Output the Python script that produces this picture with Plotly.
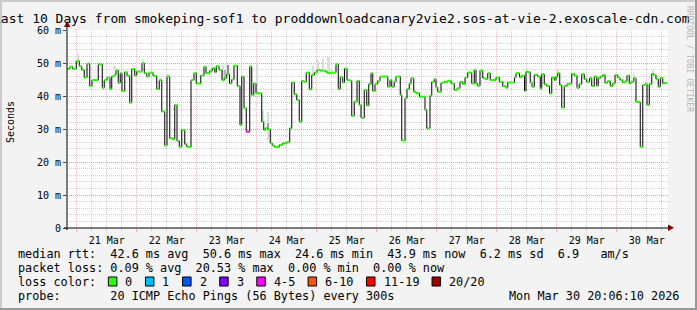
import pandas as pd
import plotly.graph_objects as go

# ---------------- data ----------------
START = pd.Timestamp("2026-03-20 20:06:10")
END_HOURS = 240.0

# median RTT steps: start (hours after START) and value (ms)
seg_hours = [
    0.0, 1.2, 2.3, 3.7, 4.9, 5.9, 6.9, 8.0, 9.1, 10.0, 12.5, 14.1, 14.9, 16.0, 17.2, 17.9,
    18.8, 19.6, 20.5, 21.3, 22.0, 23.1, 24.0, 25.1, 25.9, 27.1, 27.9, 30.0, 30.9, 31.9, 32.8,
    34.4, 35.9, 36.9, 37.9, 39.1, 40.0, 41.1, 42.3, 43.1, 44.0, 44.9, 45.9, 47.1, 47.9, 49.6,
    50.8, 51.7, 53.5, 54.8, 55.6, 57.1, 58.1, 59.1, 59.7, 60.8, 62.0, 62.9, 63.9, 65.0, 65.9,
    66.8, 68.1, 69.2, 69.9, 70.8, 71.7, 73.1, 73.9, 74.7, 75.6, 77.9, 78.7, 79.3, 80.3, 81.3,
    82.1, 82.9, 84.9, 86.3, 87.9, 89.1, 89.9, 90.9, 91.9, 92.9, 93.9, 94.8, 95.7, 96.9,
    97.9, 99.0, 100.0, 101.3, 103.6, 104.3, 105.6, 107.6, 108.5, 109.3, 110.3, 111.0, 112.0,
    113.2, 113.9, 114.9, 116.0, 116.9, 117.6, 118.9, 119.9, 120.7, 121.6, 122.3, 123.2, 124.3,
    125.2, 128.3, 129.2, 129.9, 130.9, 131.6, 133.3, 133.9, 135.2, 136.0, 136.9, 137.6, 138.7,
    139.6, 141.0, 143.2, 143.9, 145.2, 145.9, 146.9, 147.6, 148.3, 149.6, 150.9, 152.3, 153.6,
    154.9, 156.0, 157.2, 158.3, 159.2, 160.3, 161.9, 162.9, 163.6, 164.3, 165.2, 166.3, 167.2,
    168.3, 169.3, 171.6, 172.9, 174.3, 175.6, 176.3, 179.0, 179.6, 181.0, 181.9, 183.0, 183.6,
    184.3, 185.3, 186.0, 186.9, 188.3, 189.3, 189.9, 190.9, 191.9, 193.0, 193.9, 194.9, 195.6,
    196.3, 197.1, 197.9, 198.9, 200.0, 200.9, 201.9, 202.9, 204.0, 204.9, 205.9, 206.9, 207.9,
    209.0, 209.9, 210.9, 211.9, 212.5, 213.3, 214.3, 215.2, 216.3, 217.3, 218.3, 219.2, 220.3,
    221.2, 222.3, 223.2, 224.0, 224.9, 225.6, 226.7, 227.6, 228.5, 229.3, 230.3, 231.2, 232.0,
    232.9, 233.9, 234.7, 235.6, 236.5, 237.3, 238.3, 238.9,
]
seg_ms = [
    48.2, 48.9, 48.2, 50.6, 49.0, 47.9, 45.6, 49.8, 43.0, 44.8, 49.6, 42.5, 44.8, 45.6, 42.1, 45.9,
    46.4, 47.8, 44.0, 46.9, 41.5, 47.2, 46.1, 38.0, 48.2, 46.2, 47.4, 49.9, 46.9, 45.9, 47.1,
    46.1, 42.1, 44.8, 35.3, 25.0, 45.9, 27.2, 26.9, 37.3, 26.4, 24.6, 29.7, 25.4, 24.6, 44.8,
    46.9, 43.8, 46.2, 48.9, 46.9, 47.6, 48.4, 47.2, 49.0, 47.9, 44.8, 45.4, 46.6, 43.8, 45.0,
    49.2, 43.0, 31.2, 45.9, 36.3, 29.2, 48.9, 40.3, 43.8, 40.8, 32.2, 29.7, 30.2, 29.9, 25.7,
    25.0, 24.6, 25.2, 25.7, 26.0, 30.2, 44.1, 40.5, 38.8, 32.2, 44.5, 44.3, 47.1, 42.0,
    46.4, 47.1, 47.9, 47.7, 47.2, 46.9, 47.1, 49.6, 42.1, 45.7, 44.1, 48.3, 44.8,
    44.6, 34.0, 38.3, 44.6, 37.3, 33.4, 41.8, 37.1, 43.6, 46.9, 41.5, 43.6, 44.6,
    45.9, 42.8, 44.8, 42.8, 44.3, 45.9, 40.3, 26.5, 39.3, 42.1, 43.8, 45.4, 41.3,
    40.8, 39.8, 35.8, 30.2, 40.1, 44.3, 45.1, 42.6, 41.3, 44.0, 44.3, 44.6, 43.8,
    41.8, 42.3, 44.3, 43.6, 45.6, 47.1, 43.8, 47.9, 43.8, 43.1, 47.7, 45.4, 45.1,
    46.9, 44.8, 45.6, 44.3, 43.0, 42.5, 44.1, 45.6, 46.9, 45.7, 46.2, 41.5, 47.4,
    47.2, 44.1, 42.8, 46.4, 45.9, 42.3, 46.6, 43.5, 43.0, 40.8, 45.6, 44.8, 45.9,
    46.9, 43.3, 36.5, 43.0, 43.6, 43.8, 46.7, 46.2, 42.5, 43.6, 46.6, 45.1, 44.3,
    45.4, 43.0, 45.9, 43.1, 45.4, 45.9, 46.4, 44.0, 44.5, 43.0, 43.8, 46.4, 45.6,
    44.8, 44.1, 44.5, 46.2, 43.8, 44.3, 45.4, 38.3, 38.1, 24.6, 43.3, 43.6, 37.3,
    43.6, 46.7, 46.4, 45.1, 42.8, 45.4, 43.8, 43.9,
]
# lost pings (of 20) per step; steps not listed lost none
loss_pings = {71.7: 5}

# smoke (ping spread) bars: centre hour, low ms, high ms, shade
smoke_hours = [4.3, 19.0, 30.4, 40.5, 62.3, 63.3, 64.4, 73.5, 75.9, 78.2, 80.3, 80.3,
               98.3, 100.5, 102.5, 104.6, 133.5, 196.5, 226.9, 234.3]
smoke_low = [50.6, 47.8, 49.9, 45.9, 44.8, 45.4, 46.4, 41.0, 40.8, 32.2, 26.7, 29.7,
             46.4, 47.9, 47.7, 46.9, 40.3, 46.9, 45.4, 46.4]
smoke_high = [52.7, 49.2, 50.9, 46.7, 49.4, 48.0, 49.4, 49.4, 50.4, 35.5, 35.3, 31.7,
              49.1, 50.9, 51.2, 51.7, 42.0, 48.1, 46.7, 47.9]
smoke_shade = ["#dcdcdc", "#dcdcdc", "#dcdcdc", "#dcdcdc", "#dcdcdc", "#b4b4b4", "#8c8c8c",
               "#dcdcdc", "#dcdcdc", "#dcdcdc", "#dcdcdc", "#a0a0a0",
               "#dcdcdc", "#dcdcdc", "#dcdcdc", "#dcdcdc", "#dcdcdc", "#dcdcdc", "#dcdcdc", "#dcdcdc"]

y_tick_vals = [0, 10, 20, 30, 40, 50, 60]
y_tick_text = ["0", "10 m", "20 m", "30 m", "40 m", "50 m", "60 m"]

loss_labels = ["0", "1", "2", "3", "4-5", "6-10", "11-19", "20/20"]
loss_colors = ["#26ff00", "#00b8ff", "#0059ff", "#7e00ff", "#ff00ff", "#ff5500", "#ff0000", "#a00000"]
loss_upper = [0, 1, 2, 3, 5, 10, 19, 20]

title = "Last 10 Days from smokeping-sof1 to proddownloadcanary2vie2.sos-at-vie-2.exoscale-cdn.com"
line_rtt = "median rtt:  42.6 ms avg  50.6 ms max  24.6 ms min  43.9 ms now  6.2 ms sd  6.9   am/s"
line_loss = "packet loss: 0.09 % avg  20.53 % max  0.00 % min  0.00 % now"
line_color = "loss color:"
line_probe = "probe:       20 ICMP Echo Pings (56 Bytes) every 300s"
stamp = "Mon Mar 30 20:06:10 2026"
watermark = "RRDTOOL / TOBI OETIKER"

# ---------------- layout constants ----------------
W, H = 697, 310
L, R, T, B = 67, 29, 30, 82
PW, PH = W - L - R, H - T - B
MONO = "DejaVu Sans Mono"
BG = "#f3f3f3"
GRID = "rgba(140,140,140,0.4)"
MGRID = "rgba(231,80,80,0.38)"


def PX(x):
    return (x - L) / PW


def PY(y):
    return (H - B - y) / PH


def nb(s):
    return s.replace(" ", "\u00a0")


hour = pd.Timedelta(hours=1)
seg_t = [START + h * hour for h in seg_hours]
end_t = START + END_HOURS * hour

fig = go.Figure()

# smoke
fig.add_trace(go.Bar(
    x=[START + h * hour for h in smoke_hours],
    y=[hi - lo for lo, hi in zip(smoke_low, smoke_high)],
    base=smoke_low,
    width=3600000 * 0.9,
    marker=dict(color=smoke_shade, line=dict(width=0)),
    hoverinfo="skip", showlegend=False,
))

# black step line
fig.add_trace(go.Scatter(
    x=seg_t + [end_t], y=seg_ms + [seg_ms[-1]],
    mode="lines", line=dict(color="black", width=1, shape="hv"),
    hoverinfo="skip", showlegend=False,
))

# loss-coloured median segments
groups = {}
for i, (h, v) in enumerate(zip(seg_hours, seg_ms)):
    lost = loss_pings.get(h, 0)
    ci = next(k for k, u in enumerate(loss_upper) if lost <= u)
    t1 = seg_t[i + 1] if i + 1 < len(seg_t) else end_t
    gx, gy = groups.setdefault(ci, ([], []))
    gx += [seg_t[i], t1, None]
    gy += [v, v, None]
for ci, (gx, gy) in groups.items():
    fig.add_trace(go.Scatter(
        x=gx, y=gy, mode="lines",
        line=dict(color=loss_colors[ci], width=2),
        hoverinfo="skip", showlegend=False,
    ))

shapes = []
annotations = []

# frame shading
shapes += [
    dict(type="rect", xref="paper", yref="paper", x0=PX(0), x1=PX(W), y0=PY(0), y1=PY(2),
         fillcolor="#cbcbcb", line=dict(width=0), layer="below"),
    dict(type="rect", xref="paper", yref="paper", x0=PX(0), x1=PX(2), y0=PY(0), y1=PY(H),
         fillcolor="#cbcbcb", line=dict(width=0), layer="below"),
    dict(type="rect", xref="paper", yref="paper", x0=PX(0), x1=PX(W), y0=PY(H - 2), y1=PY(H),
         fillcolor="#999999", line=dict(width=0), layer="below"),
    dict(type="rect", xref="paper", yref="paper", x0=PX(W - 2), x1=PX(W), y0=PY(0), y1=PY(H),
         fillcolor="#999999", line=dict(width=0), layer="below"),
]

# axis extensions and arrows
shapes += [
    dict(type="line", xref="paper", yref="paper", x0=0, x1=0, y0=PY(230), y1=PY(26),
         line=dict(color="black", width=1)),
    dict(type="line", xref="paper", yref="paper", x0=PX(64), x1=PX(669), y0=0, y1=0,
         line=dict(color="black", width=1)),
    dict(type="path", xref="paper", yref="paper",
         path=f"M {PX(64)},{PY(27)} L {PX(70.5)},{PY(27)} L {PX(67.2)},{PY(21)} Z",
         fillcolor="#7f0000", line=dict(width=0)),
    dict(type="path", xref="paper", yref="paper",
         path=f"M {PX(668)},{PY(224.5)} L {PX(668)},{PY(231)} L {PX(674)},{PY(227.8)} Z",
         fillcolor="#7f0000", line=dict(width=0)),
]

# title, axis title, watermark
annotations += [
    dict(text=title, xref="paper", yref="paper", x=PX(341), y=PY(19), xanchor="center",
         yanchor="middle", showarrow=False, font=dict(family=MONO, size=13, color="black")),
    dict(text="Seconds", xref="paper", yref="paper", x=PX(10), y=PY(122), xanchor="center",
         yanchor="middle", textangle=-90, showarrow=False,
         font=dict(family=MONO, size=10, color="black")),
    dict(text=watermark, xref="paper", yref="paper", x=PX(690), y=PY(59), xanchor="center",
         yanchor="middle", textangle=90, showarrow=False,
         font=dict(family=MONO, size=8, color="#b4b4b4")),
]

LF = 11.8
CW = LF * 0.6021
for txt, yy in [(line_rtt, 254), (line_loss, 268), (line_color, 282), (line_probe, 296)]:
    annotations.append(dict(text=nb(txt), xref="paper", yref="paper", x=PX(16), y=PY(yy),
                            xanchor="left", yanchor="middle", showarrow=False,
                            font=dict(family=MONO, size=LF, color="black")))
annotations.append(dict(text=nb(stamp), xref="paper", yref="paper", x=PX(681), y=PY(296),
                        xanchor="right", yanchor="middle", showarrow=False,
                        font=dict(family=MONO, size=LF, color="black")))

bx = 16 + 13 * CW
for lab, col in zip(loss_labels, loss_colors):
    shapes.append(dict(type="rect", xref="paper", yref="paper", x0=PX(bx), x1=PX(bx + 8.5),
                       y0=PY(277), y1=PY(286), fillcolor=col, line=dict(color="black", width=1)))
    lx = bx + 15
    annotations.append(dict(text=lab, xref="paper", yref="paper", x=PX(lx), y=PY(282),
                            xanchor="left", yanchor="middle", showarrow=False,
                            font=dict(family=MONO, size=LF, color="black")))
    bx = lx + len(lab) * CW + 15

fig.update_layout(
    width=W, height=H,
    margin=dict(l=L, r=R, t=T, b=B, pad=0),
    paper_bgcolor=BG, plot_bgcolor="white",
    showlegend=False, bargap=0, barmode="overlay",
    shapes=shapes, annotations=annotations,
    xaxis=dict(
        type="date", range=[START, START + 240.4 * hour],
        tick0="2026-03-21", dtick=86400000, ticklabelmode="period", tickformat="%d %b",
        showgrid=True, gridcolor=MGRID, griddash="1px,1px", gridwidth=1,
        ticks="outside", ticklen=3, tickcolor=MGRID,
        minor=dict(dtick=6 * 3600000, showgrid=True, gridcolor=GRID, griddash="1px,1px",
                   ticks="outside", ticklen=2, tickcolor=GRID),
        showline=False, zeroline=False,
        tickfont=dict(family=MONO, size=10, color="black"), fixedrange=True,
    ),
    yaxis=dict(
        range=[0, 60], tickmode="array", tickvals=y_tick_vals, ticktext=y_tick_text,
        showgrid=True, gridcolor=MGRID, griddash="1px,1px", gridwidth=1,
        minor=dict(tickmode="linear", tick0=0, dtick=2, showgrid=True, gridcolor=GRID,
                   griddash="1px,1px"),
        ticks="outside", ticklen=3, tickcolor="#444",
        showline=False, zeroline=False,
        tickfont=dict(family=MONO, size=10, color="black"), fixedrange=True,
    ),
)

fig.write_html("out.html")
